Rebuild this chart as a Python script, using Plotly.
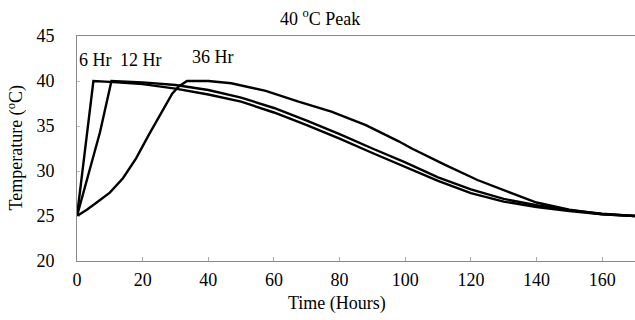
import plotly.graph_objects as go

# ---- data ----
t_6hr = [0, 5, 10, 20, 30, 40, 50, 60, 70, 80, 90, 100, 110, 120, 130, 140, 150, 160, 170]
temp_6hr = [25, 40, 39.9, 39.65, 39.15, 38.5, 37.7, 36.5, 35.1, 33.6, 32.0, 30.45, 28.9, 27.55,
            26.6, 26.0, 25.55, 25.2, 25.0]

t_12hr = [0, 4, 7, 10.5, 20, 30, 40, 50, 60, 70, 80, 90, 100, 110, 120, 130, 140, 150, 160, 170]
temp_12hr = [25, 30.2, 34.3, 40, 39.85, 39.55, 39.0, 38.15, 37.0, 35.6, 34.1, 32.5, 30.95, 29.3,
             27.95, 26.9, 26.2, 25.65, 25.25, 25.0]

t_36hr = [0, 3, 6, 10, 14, 18, 22, 26, 29, 31, 33.5, 40, 47, 57.5, 67.5, 77.5, 88, 98, 102,
          112, 122, 132, 140, 150, 160, 170]
temp_36hr = [25, 25.7, 26.5, 27.6, 29.2, 31.4, 34.1, 36.7, 38.6, 39.4, 40, 40, 39.75, 38.9,
             37.7, 36.6, 35.1, 33.3, 32.5, 30.7, 29.0, 27.6, 26.5, 25.7, 25.2, 25.0]

series_names = ["6 Hr", "12 Hr", "36 Hr"]
label_x = [5.5, 19.5, 41.5]
label_y = [42.3, 42.3, 42.7]

x_ticks = [0, 20, 40, 60, 80, 100, 120, 140, 160]
y_ticks = [20, 25, 30, 35, 40, 45]

FONT = "Liberation Serif"

fig = go.Figure()
for tx, ty, name in [(t_6hr, temp_6hr, "6 Hr"), (t_12hr, temp_12hr, "12 Hr"), (t_36hr, temp_36hr, "36 Hr")]:
    fig.add_trace(go.Scatter(x=tx, y=ty, mode="lines", name=name,
                             line=dict(color="black", width=2.4), showlegend=False))

for name, lx, ly in zip(series_names, label_x, label_y):
    fig.add_annotation(x=lx, y=ly, text=name, showarrow=False,
                       font=dict(family=FONT, size=18, color="black"))

fig.add_annotation(xref="paper", yref="paper", x=0.435, y=1.084, xanchor="center", yanchor="middle",
                   text="40 <sup>o</sup>C Peak", showarrow=False,
                   font=dict(family=FONT, size=18, color="black"))
fig.add_annotation(xref="paper", yref="paper", x=0.466, y=-0.187, xanchor="center", yanchor="middle",
                   text="Time (Hours)", showarrow=False,
                   font=dict(family=FONT, size=18, color="black"))
fig.add_annotation(xref="paper", yref="paper", x=-0.111, y=0.5, xanchor="center", yanchor="middle",
                   text="Temperature (<sup>o</sup>C)", textangle=-90, showarrow=False,
                   font=dict(family=FONT, size=18, color="black"))

fig.update_xaxes(range=[0, 170], tickvals=x_ticks, showgrid=False, zeroline=False,
                 showline=True, linecolor="#8a8a8a", linewidth=1, mirror=True,
                 ticks="inside", ticklen=4, tickcolor="#aaaaaa", ticklabelstandoff=2,
                 tickfont=dict(family=FONT, size=18, color="black"))
fig.update_yaxes(range=[20, 45], tickvals=y_ticks, showgrid=False, zeroline=False,
                 showline=True, linecolor="#8a8a8a", linewidth=1,
                 ticks="inside", ticklen=3, tickcolor="#bbbbbb", ticklabelstandoff=18,
                 tickfont=dict(family=FONT, size=18, color="black"))

fig.update_layout(width=635, height=320, margin=dict(l=77, r=0, t=36, b=59),
                  paper_bgcolor="white", plot_bgcolor="white")

fig.write_html("out.html")
